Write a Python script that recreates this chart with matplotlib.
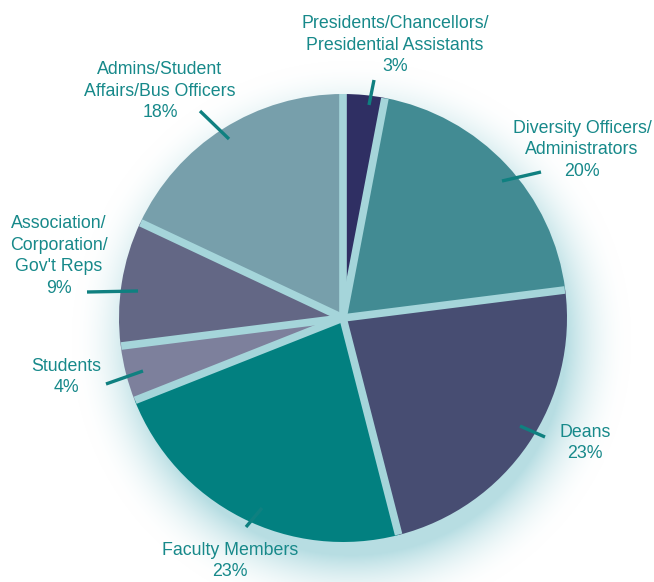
import numpy as np
import matplotlib
matplotlib.use("Agg")
import matplotlib.pyplot as plt
from matplotlib import font_manager

categories = ["Presidents/Chancellors/\nPresidential Assistants", "Diversity Officers/\nAdministrators",
              "Deans", "Faculty Members", "Students", "Association/\nCorporation/\nGov't Reps",
              "Admins/Student\nAffairs/Bus Officers"]
values = [3, 20, 23, 23, 4, 9, 18]
pct_labels = ["3%", "20%", "23%", "23%", "4%", "9%", "18%"]
colors = ["#2f2f63", "#428b93", "#474d72", "#028080", "#7d809c", "#636785", "#779fab"]

names = [f.name for f in font_manager.fontManager.ttflist]
fam = "Liberation Sans Narrow" if "Liberation Sans Narrow" in names else "Liberation Sans"

W, H = 654, 582
fig = plt.figure(figsize=(W / 100, H / 100), dpi=100)
ax = fig.add_axes([0, 0, 1, 1])
ax.set_xlim(0, W)
ax.set_ylim(0, H)
ax.axis("off")

cx, cy, R = 343, H - 318, 224

# background glow (decorative)
yy, xx = np.mgrid[0:H, 0:W]
d = np.hypot(xx - (cx + 8), (H - yy) - (cy - 22))
t = np.clip((d - 215) / 65, 0, 1)
glow = np.array([0.72, 0.87, 0.89])
s = (1 - t[..., None]) ** 2.0
img = glow[None, None, :] * s + np.ones(3)[None, None, :] * (1 - s)
ax.imshow(img, extent=[0, W, 0, H], origin="upper", zorder=0, interpolation="bilinear")

wedges, _ = ax.pie(values, colors=colors, startangle=90, counterclock=False,
                   center=(cx, cy), radius=R, wedgeprops=dict(linewidth=0), frame=False)
for w in wedges:
    w.set_zorder(2)
ax.set_xlim(0, W)
ax.set_ylim(0, H)
ax.set_aspect("equal")

# separators
cum = np.cumsum([0] + values)
for c in cum[:-1]:
    ang = np.deg2rad(90 - 360 * c / 100)
    ax.plot([cx, cx + R * 0.998 * np.cos(ang)], [cy, cy + R * 0.998 * np.sin(ang)],
            color="#a5d5da", lw=5.5, solid_capstyle="butt", zorder=3)

txtc = "#17898a"
label_pos = [(395, 45), (582, 150), (585, 443), (230, 561), (66, 377), (59, 256), (160, 91)]
leaders = [((369, 105), (374, 80)), ((502, 181), (541, 172)), ((520, 426), (545, 437)),
           ((246, 527), (262, 508)), ((106, 384), (143, 371)), ((87, 292), (138, 291)),
           ((200, 111), (229, 139))]
for name, p, (x, y), (a, b) in zip(categories, pct_labels, label_pos, leaders):
    ax.text(x, H - y, name + "\n" + p, ha="center", va="center", color=txtc,
            fontsize=12.8, family=fam, linespacing=1.35, zorder=5)
    ax.plot([a[0], b[0]], [H - a[1], H - b[1]], color="#0f8080", lw=2.4,
            solid_capstyle="butt", zorder=4)

fig.savefig("out.png", dpi=100)
